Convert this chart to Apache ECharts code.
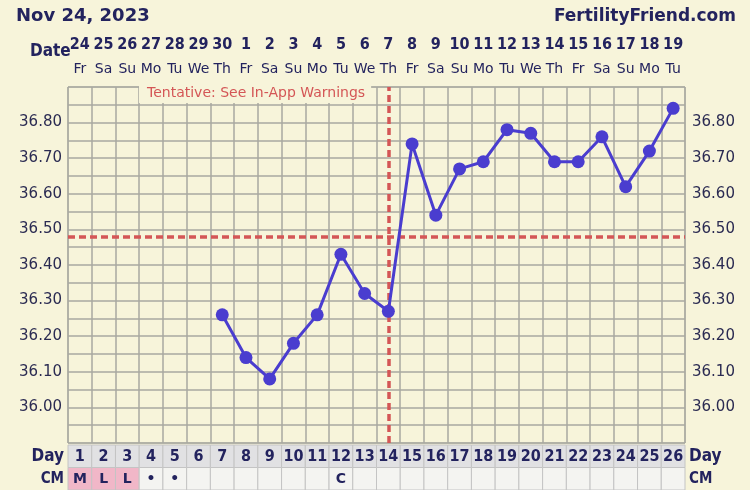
<!DOCTYPE html>
<html><head><meta charset="utf-8">
<script src="https://cdn.jsdelivr.net/npm/echarts@6/dist/echarts.min.js"></script>
<style>html,body{margin:0;padding:0;background:#f7f4da;}#c{width:750px;height:490px;}</style>
</head><body><div id="c"></div>
<script>
const cycleDays = ['1','2','3','4','5','6','7','8','9','10','11','12','13','14','15','16','17','18','19','20','21','22','23','24','25','26'];
const dates = ['24','25','26','27','28','29','30','1','2','3','4','5','6','7','8','9','10','11','12','13','14','15','16','17','18','19'];
const weekdays = ['Fr','Sa','Su','Mo','Tu','We','Th','Fr','Sa','Su','Mo','Tu','We','Th','Fr','Sa','Su','Mo','Tu','We','Th','Fr','Sa','Su','Mo','Tu'];
const temps = [null,null,null,null,null,null,36.26,36.14,36.08,36.18,36.26,36.43,36.32,36.27,36.74,36.54,36.67,36.69,36.78,36.77,36.69,36.69,36.76,36.62,36.72,36.84];
const cm = ['M','L','L','•','•','','','','','','','C','','','','','','','','','','','','','',''];
const coverline = 36.485;
const ovulationDay = '14';
const rowNames = ['Day','CM'];
const yLabelsShown = ['36.00','36.10','36.20','36.30','36.40','36.50','36.60','36.70','36.80'];

const NAVY = '#23235e';
const RED = '#d45656';
const GRIDC = '#a9a8a0';
const BG = '#f7f4da';

const cells = [];
cycleDays.forEach((d, i) => {
  cells.push([i, 0, d, 'day']);
  cells.push([i, 1, cm[i], 'cm']);
});

const yFmt = v => { const s = (+v).toFixed(2); return yLabelsShown.indexOf(s) >= 0 ? s : ''; };

const chart = echarts.init(document.getElementById('c'), null, {renderer: 'canvas'});
chart.setOption({
  backgroundColor: BG,
  animation: false,
  title: [
    {text: 'Nov 24, 2023', left: 11, top: 2, textStyle: {fontFamily: 'DejaVu Sans', fontWeight: 'bold', fontSize: 18, color: NAVY}},
    {text: 'FertilityFriend.com', right: 9, top: 3, textStyle: {fontFamily: 'DejaVu Sans', fontWeight: 'bold', fontSize: 17, color: NAVY}},
    {text: 'Date', left: 25, top: 38, textStyle: {fontFamily: 'DejaVu Sans Condensed', fontWeight: 'bold', fontSize: 17, color: NAVY}},
    {text: 'Tentative: See In-App Warnings', left: 139, top: 86, padding: [0, 6, 3, 8], backgroundColor: BG,
     textStyle: {fontFamily: 'DejaVu Sans', fontWeight: 'normal', fontSize: 14, color: RED}}
  ],
  grid: [
    {left: 68, right: 65, top: 87, height: 356, show: true, borderColor: GRIDC, borderWidth: 1, backgroundColor: BG},
    {left: 68, right: 65, top: 445, height: 45}
  ],
  xAxis: [
    {type: 'category', gridIndex: 0, data: cycleDays, boundaryGap: true,
     axisLine: {show: false}, axisTick: {show: false}, axisLabel: {show: false},
     splitLine: {show: true, lineStyle: {color: GRIDC, width: 1.5}}},
    {type: 'category', gridIndex: 0, position: 'top', data: dates, boundaryGap: true,
     axisLine: {show: false}, axisTick: {show: false},
     axisLabel: {interval: 0, margin: 6,
       formatter: (v, i) => '{a|' + v + '}\n{b|' + weekdays[i] + '}',
       rich: {
         a: {fontFamily: 'DejaVu Sans Condensed', fontWeight: 'bold', fontSize: 16, color: NAVY, lineHeight: 24, align: 'center'},
         b: {fontFamily: 'DejaVu Sans', fontSize: 14, color: NAVY, lineHeight: 24, align: 'center'}
       }}},
    {type: 'category', gridIndex: 1, data: cycleDays, boundaryGap: true,
     axisLine: {show: false}, axisTick: {show: false}, axisLabel: {show: false}, splitLine: {show: false}}
  ],
  yAxis: [
    {type: 'value', gridIndex: 0, min: 35.9, max: 36.9, interval: 0.05, position: 'left',
     axisLine: {show: false}, axisTick: {show: false},
     axisLabel: {formatter: yFmt, margin: 6, fontFamily: 'DejaVu Sans', fontSize: 15, color: '#2b2b52'},
     splitLine: {show: true, lineStyle: {color: GRIDC, width: 1.5}}},
    {type: 'value', gridIndex: 0, min: 35.9, max: 36.9, interval: 0.05, position: 'right',
     axisLine: {show: false}, axisTick: {show: false},
     axisLabel: {formatter: yFmt, margin: 7, fontFamily: 'DejaVu Sans', fontSize: 15, color: '#2b2b52'},
     splitLine: {show: false}},
    {type: 'category', gridIndex: 1, data: rowNames, inverse: true, position: 'left',
     axisLine: {show: false}, axisTick: {show: false},
     axisLabel: {margin: 4, fontFamily: 'DejaVu Sans Condensed', fontWeight: 'bold', fontSize: 17, color: NAVY,
       formatter: v => v === 'CM' ? '{s|CM}' : v, rich: {s: {fontFamily: 'DejaVu Sans Condensed', fontWeight: 'bold', fontSize: 15, color: NAVY}}}},
    {type: 'category', gridIndex: 1, data: rowNames, inverse: true, position: 'right',
     axisLine: {show: false}, axisTick: {show: false},
     axisLabel: {margin: 4, fontFamily: 'DejaVu Sans Condensed', fontWeight: 'bold', fontSize: 17, color: NAVY,
       formatter: v => v === 'CM' ? '{s|CM}' : v, rich: {s: {fontFamily: 'DejaVu Sans Condensed', fontWeight: 'bold', fontSize: 15, color: NAVY}}}}
  ],
  series: [
    {type: 'line', xAxisIndex: 0, yAxisIndex: 0, data: temps, connectNulls: false,
     symbol: 'circle', symbolSize: 13, z: 5,
     lineStyle: {color: '#4a3dcf', width: 3}, itemStyle: {color: '#4a3dcf'},
     markLine: {silent: true, symbol: ['none', 'none'], label: {show: false},
       lineStyle: {color: RED, width: 3.5, type: [7, 4]},
       data: [{yAxis: coverline}, {xAxis: ovulationDay}]}},
    {type: 'custom', xAxisIndex: 2, yAxisIndex: 2, data: cells,
     renderItem: (params, api) => {
       const c = api.coord([api.value(0), api.value(1)]);
       const s = api.size([1, 1]);
       const item = cells[params.dataIndex];
       const kind = item[3];
       const txt = item[2];
       let fill = kind === 'day' ? '#e1e1e3' : '#f4f4f1';
       if (kind === 'cm' && (txt === 'M' || txt === 'L' || txt === 'H')) fill = '#f1b7c8';
       return {type: 'group', children: [
         {type: 'rect', shape: {x: c[0] - s[0] / 2, y: c[1] - s[1] / 2, width: s[0], height: s[1]},
          style: {fill: fill, stroke: '#c4c4c4', lineWidth: 1}},
         {type: 'text', style: {text: txt, x: c[0], y: c[1] + 1,
           align: 'center', verticalAlign: 'middle', textAlign: 'center', textVerticalAlign: 'middle',
           font: (kind === 'day' ? 'bold 16px "DejaVu Sans Condensed"' : 'bold 14px "DejaVu Sans"'), fill: NAVY}}
       ]};
     }}
  ]
});
</script></body></html>
